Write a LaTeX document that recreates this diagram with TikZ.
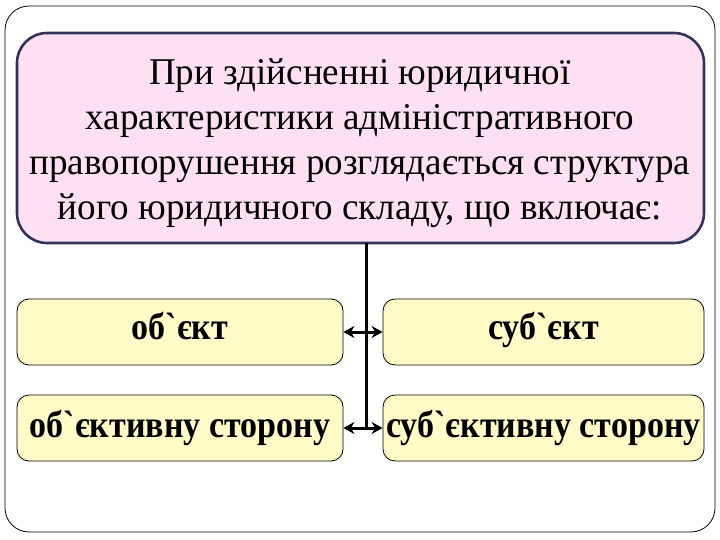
\documentclass[tikz,border=0pt]{standalone}
\usepackage{fontspec}
\setmainfont{Liberation Serif}[Ligatures=TeXOff]
\usetikzlibrary{arrows.meta}
\begin{document}
\begin{tikzpicture}[x=1pt,y=-1pt,
  frame/.style={draw=black,line width=0.8pt,rounded corners=24pt},
  topbox/.style={draw=black!75!blue!60!gray,line width=2.6pt,fill=magenta!12,rounded corners=30pt},
  itembox/.style={draw=black,line width=0.8pt,fill=yellow!22,rounded corners=12pt},
  toptext/.style={align=center,font=\fontsize{36}{43}\selectfont,inner sep=0pt},
  itemtext/.style={font=\bfseries\fontsize{34}{40}\selectfont,inner sep=0pt,anchor=base},
  conn/.style={line width=3pt},
  biarrow/.style={line width=3pt,<->,>={Stealth[length=11pt,width=12pt]}}
]
\useasboundingbox (0,0) rectangle (720,540);
\draw[frame] (5,6) rectangle (715,532);
\draw[topbox] (17,33) rectangle (704,243);
\node[toptext] (top) at (360,143) {\scalebox{1.03}[1.05]{\begin{tabular}{@{}c@{}}При здійсненні юридичної\\характеристики адміністративного\\правопорушення розглядається структура\\його юридичного складу, що включає:\end{tabular}}};
\node[itembox,minimum width=326pt,minimum height=66pt] (a) at (180,332) {};
\node[itembox,minimum width=321pt,minimum height=66pt] (b) at (543.5,332) {};
\node[itembox,minimum width=326pt,minimum height=66pt] (c) at (180,428) {};
\node[itembox,minimum width=321pt,minimum height=66pt] (d) at (543.5,428) {};
\node[itemtext] (ta) at (180,339) {\scalebox{1}[1.12]{об`єкт}};
\node[itemtext] (tb) at (543.5,339) {\scalebox{1}[1.12]{суб`єкт}};
\node[itemtext] (tc) at (180,437) {\scalebox{1}[1.12]{об`єктивну сторону}};
\node[itemtext] (td) at (543.5,437) {\scalebox{1}[1.12]{суб`єктивну сторону}};
\coordinate (t) at (366,243);
\coordinate (m) at (366,428);
\draw[conn] (t) -- (m);
\draw[biarrow] (a.east) -- (b.west);
\draw[biarrow] (c.east) -- (d.west);
\end{tikzpicture}
\end{document}
